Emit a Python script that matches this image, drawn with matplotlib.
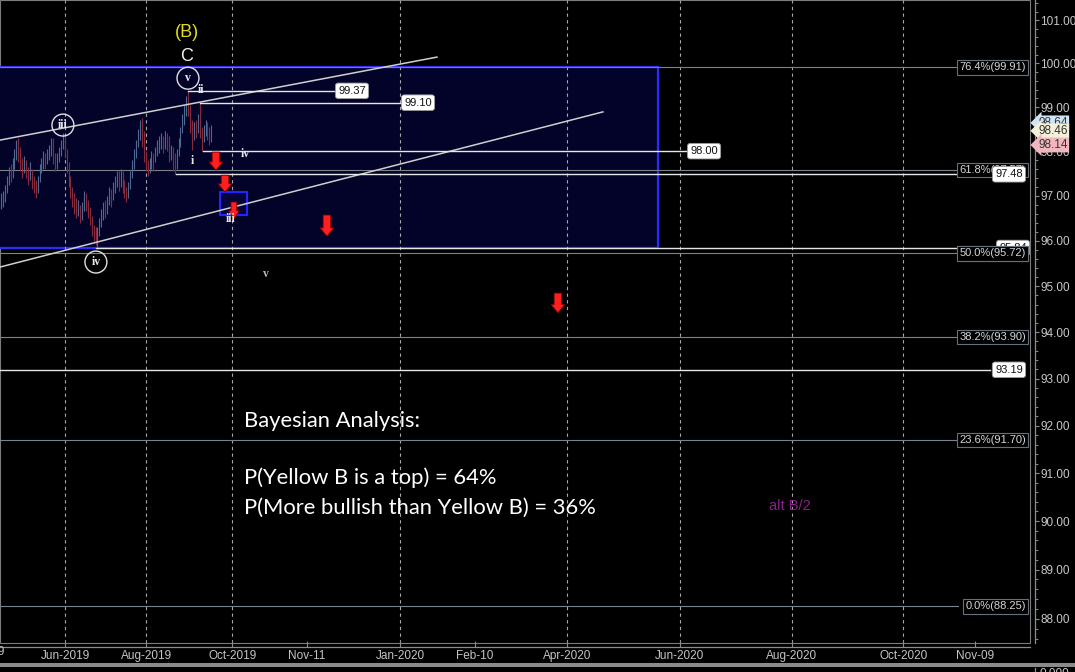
import numpy as np
import matplotlib
matplotlib.use("Agg")
import matplotlib.pyplot as plt
from matplotlib.patches import Rectangle
from matplotlib.ticker import FixedLocator, FixedFormatter, NullFormatter
from matplotlib.lines import Line2D

# ---------------- data ----------------
highs = [97.05, 97.10, 97.25, 97.45, 97.65, 97.70, 97.85, 98.05, 98.25, 98.30,
         98.10, 97.85, 97.90, 97.80, 97.65, 97.75, 97.60, 97.45, 97.35, 97.45,
         97.70, 97.85, 98.00, 97.95, 98.05, 98.15, 98.30, 98.30, 97.95, 97.95,
         98.10, 98.25, 98.40, 98.35, 98.05, 97.75, 97.45, 97.20, 97.05, 96.95,
         96.90, 96.80, 96.85, 97.10, 97.05, 96.90, 96.75, 96.55, 96.35, 96.30,
         96.30, 96.50, 96.70, 96.85, 96.90, 97.00, 97.20, 97.15, 97.30, 97.45,
         97.55, 97.55, 97.60, 97.55, 97.35, 97.20, 97.30, 97.55, 97.80, 98.05,
         98.25, 98.50, 98.70, 98.75, 98.45, 98.00, 97.80, 97.85, 98.00, 97.95,
         98.10, 98.25, 98.35, 98.40, 98.35, 98.45, 98.40, 98.35, 98.15, 98.10,
         97.95, 98.05, 98.30, 98.55, 98.85, 99.05, 99.25, 99.37, 99.05, 98.70,
         98.65, 98.70, 98.85, 99.10, 98.55, 98.60, 98.70, 98.65, 98.55, 98.60]
lows = [96.70, 96.75, 96.85, 97.05, 97.25, 97.30, 97.40, 97.60, 97.80, 97.75,
        97.55, 97.40, 97.50, 97.40, 97.25, 97.35, 97.15, 97.05, 96.95, 97.05,
        97.30, 97.50, 97.60, 97.60, 97.70, 97.80, 97.90, 97.70, 97.55, 97.60,
        97.75, 97.90, 98.05, 97.85, 97.50, 97.20, 96.95, 96.75, 96.60, 96.50,
        96.55, 96.40, 96.45, 96.65, 96.65, 96.50, 96.35, 96.10, 96.00, 95.90,
        95.84, 96.10, 96.30, 96.45, 96.50, 96.60, 96.80, 96.75, 96.90, 97.05,
        97.20, 97.10, 97.20, 97.05, 96.95, 96.85, 96.95, 97.15, 97.40, 97.60,
        97.85, 98.10, 98.25, 98.10, 97.75, 97.55, 97.45, 97.50, 97.60, 97.55,
        97.75, 97.90, 97.95, 98.05, 97.95, 98.05, 98.00, 97.75, 97.80, 97.55,
        97.48, 97.60, 97.90, 98.10, 98.40, 98.60, 98.80, 98.80, 98.40, 98.02,
        98.25, 98.30, 98.40, 98.30, 98.00, 98.20, 98.35, 98.25, 98.15, 98.20]
closes = [96.85, 96.95, 97.10, 97.35, 97.50, 97.45, 97.70, 97.95, 98.05, 97.90,
          97.75, 97.60, 97.70, 97.55, 97.45, 97.55, 97.35, 97.20, 97.10, 97.35,
          97.55, 97.70, 97.85, 97.75, 97.90, 98.05, 98.15, 97.85, 97.70, 97.80,
          97.95, 98.15, 98.30, 98.00, 97.70, 97.40, 97.10, 96.95, 96.80, 96.65,
          96.75, 96.55, 96.70, 96.95, 96.80, 96.65, 96.50, 96.25, 96.15, 96.05,
          96.20, 96.40, 96.55, 96.75, 96.70, 96.85, 97.05, 96.95, 97.15, 97.30,
          97.40, 97.25, 97.45, 97.30, 97.10, 97.00, 97.20, 97.45, 97.70, 97.90,
          98.15, 98.35, 98.50, 98.45, 97.95, 97.70, 97.55, 97.70, 97.85, 97.75,
          97.95, 98.10, 98.20, 98.25, 98.15, 98.30, 98.20, 97.90, 98.05, 97.80,
          97.70, 97.95, 98.15, 98.40, 98.70, 98.90, 99.10, 99.00, 98.60, 98.40,
          98.55, 98.45, 98.70, 98.45, 98.25, 98.45, 98.55, 98.40, 98.30, 98.46]

# x axis (trading-day slots) labels
x_tick_labels = ["Jun-2019", "Aug-2019", "Oct-2019", "Nov-11", "Jan-2020", "Feb-10",
                 "Apr-2020", "Jun-2020", "Aug-2020", "Oct-2020", "Nov-09"]
x_tick_pos = [33.9, 75.8, 120.4, 159.1, 207.5, 245.9, 293.9, 352.3, 410.3, 468.1, 505.2]
grid_labels = ["Jun-2019", "Aug-2019", "Oct-2019", "Jan-2020",
               "Apr-2020", "Jun-2020", "Aug-2020", "Oct-2020"]
y_ticks = [88, 89, 90, 91, 92, 93, 94, 95, 96, 97, 98, 99, 100, 101]

# Fibonacci retracement levels
fib_pcts = ["76.4%", "61.8%", "50.0%", "38.2%", "23.6%", "0.0%"]
fib_vals = [99.91, 97.57, 95.72, 93.90, 91.70, 88.25]

# white price levels: value, start slot, end slot, label slot
level_vals = [99.37, 99.10, 98.00, 97.48, 93.19, 95.84]
level_start = [97.4, 103.6, 105.2, 91.2, 0.0, 49.7]
level_end = [173.6, 208.3, 356.5, 513.0, 513.0, 516.6]
level_lab_x = [182.4, 216.6, 364.8, 522.8, 522.8, 524.9]

# right-axis price tags
tag_vals = [98.64, 98.46, 98.14]
tag_colors = ["#cfe4f4", "#f3efd9", "#f2b6be"]

# projected down arrows: slot, top price, tip price
arrow_x = [111.9, 116.6, 121.2, 169.4, 289.1]
arrow_top = [97.98, 97.46, 96.86, 96.57, 94.85]
arrow_tip = [97.57, 97.08, 96.48, 96.10, 94.42]

# channel lines
upper_ch_x = [0.0, 226.4]
upper_ch_y = [98.25, 100.145]
lower_ch_x = [0.0, 312.4]
lower_ch_y = [95.42, 98.89]

# ---------------- figure ----------------
W, H = 1075, 672
fig = plt.figure(figsize=(W / 100, H / 100), dpi=100, facecolor="black")
ax = fig.add_axes([0, (H - 643) / H, 1030 / W, 643 / H])
ax.set_facecolor("black")
ax.set_yscale("log")
ax.set_ylim(87.51, 101.47)
ax.set_xlim(0, 533.7)

for s in ["left", "top"]:
    ax.spines[s].set_visible(False)
ax.spines["right"].set_position(("outward", 3.6))
ax.spines["bottom"].set_position(("outward", 2.9))
for s in ["right", "bottom"]:
    ax.spines[s].set_color("#8c8c8c")
    ax.spines[s].set_linewidth(0.9)
ax.add_patch(Rectangle((0, 0), 1, 1, transform=ax.transAxes, fill=False,
                       ec="#7c7c7c", lw=0.8, clip_on=False, zorder=0.2))

# y axis
ax.yaxis.tick_right()
ax.yaxis.set_major_locator(FixedLocator(y_ticks))
ax.yaxis.set_major_formatter(FixedFormatter([f"{v:.2f}" for v in y_ticks]))
minor = [round(v, 1) for v in np.arange(87.6, 101.45, 0.2) if abs(v - round(v)) > 0.05]
ax.yaxis.set_minor_locator(FixedLocator(minor))
ax.yaxis.set_minor_formatter(NullFormatter())
ax.tick_params(axis="y", which="major", direction="out", length=3, width=0.8,
               color="#8c8c8c", labelcolor="#c8c8c8", labelsize=8.5, pad=0.8)
ax.tick_params(axis="y", which="minor", direction="out", length=2, width=0.7,
               color="#8c8c8c")
for lab in ax.get_yticklabels():
    lab.set_family("Liberation Sans")

# x axis
ax.set_xticks(x_tick_pos)
ax.set_xticklabels(x_tick_labels, family="Liberation Sans")
ax.xaxis.set_minor_locator(FixedLocator([]))
ax.tick_params(axis="x", direction="in", length=4, width=0.8, color="#8c8c8c",
               labelcolor="#c4c4c4", labelsize=8.5, pad=2)
ax.text(-9.8, -0.004, "Apr-2019", transform=ax.get_xaxis_transform(), ha="center",
        va="top", fontsize=8.5, color="#c4c4c4", family="Liberation Sans", clip_on=False)

# dashed grid
for lab in grid_labels:
    ax.axvline(x_tick_pos[x_tick_labels.index(lab)], color="#a6a6a6", lw=0.8,
               ls=(0, (3, 3)), zorder=1)

# blue zone
ax.add_patch(Rectangle((-3, 95.84), 343.9, 99.91 - 95.84, fc="#03032a", ec="#2b2bff",
                       lw=1.6, zorder=0.5))
ax.add_patch(Rectangle((114.0, 96.57), 14.0, 97.08 - 96.57, fc="#05053a", ec="#2424ff",
                       lw=1.5, zorder=4))

# fib levels
for pct, v in zip(fib_pcts, fib_vals):
    ax.plot([0, 496.4], [v, v], color="#7a828c", lw=0.8, zorder=1.2)
    ax.text(531.6, v, f"{pct}({v:.2f})", ha="right", va="center", fontsize=8,
            color="#d6d6d6", family="Liberation Sans", zorder=6,
            bbox=dict(boxstyle="square,pad=0.2", fc="black", ec="#66707c", lw=0.8))

# price bars
xs = [i + 0.5 for i in range(len(closes))]
cols = []
for i, c in enumerate(closes):
    prev = closes[i - 1] if i > 0 else c
    cols.append("#4d6891" if c >= prev else "#862b3b")
ax.vlines(xs, lows, highs, colors=cols, lw=0.8, zorder=3)

# channel
ax.plot(upper_ch_x, upper_ch_y, color="#cfcfcf", lw=1.1, zorder=4)
ax.plot(lower_ch_x, lower_ch_y, color="#cfcfcf", lw=1.1, zorder=4)

# white levels
for v, x0, x1, xl in zip(level_vals, level_start, level_end, level_lab_x):
    ax.plot([x0, x1], [v, v], color="#e6e6e6", lw=1.0, zorder=4.5)
    ax.text(xl, v, f"{v:.2f}", ha="center", va="center", fontsize=8, color="#111111",
            family="Liberation Sans", zorder=7 if v != 95.84 else 5,
            bbox=dict(boxstyle="round,pad=0.25", fc="white", ec="#9a9a9a", lw=0.6))
# re-draw 50% label on top of the 95.84 tag
ax.text(531.6, 95.72, "50.0%(95.72)", ha="right", va="center", fontsize=8,
        color="#d6d6d6", family="Liberation Sans", zorder=8,
        bbox=dict(boxstyle="square,pad=0.2", fc="black", ec="#66707c", lw=0.8))

# arrows
for i, (x, y0, y1) in enumerate(zip(arrow_x, arrow_top, arrow_tip)):
    hw, tw = (0.75, 0.42) if i == 2 else (1.0, 0.55)
    ax.annotate("", xy=(x, y1), xytext=(x, y0), zorder=6,
                arrowprops=dict(arrowstyle=f"simple,head_length=0.6,head_width={hw},tail_width={tw}",
                                fc="#ff1f1f", ec="#7a0000", lw=0.6, shrinkA=0, shrinkB=0,
                                mutation_scale=10))

# wave labels
ax.text(96.9, 100.72, "(B)", ha="center", va="center", fontsize=13, color="#e2dc22",
        family="Liberation Sans", zorder=8)
ax.text(96.9, 100.17, "C", ha="center", va="center", fontsize=13, color="#f0f0f0",
        family="Liberation Sans", zorder=8)
for x, y, t in [(97.4, 99.66, "v"), (32.6, 98.59, "iii"), (49.7, 95.53, "iv")]:
    ax.text(x, y, t, ha="center", va="center", fontsize=8.5, color="#eeeeee",
            family="Liberation Serif", weight="bold", zorder=8,
            bbox=dict(boxstyle="circle,pad=0.42", fc="none", ec="#e0e0e0", lw=1.0))
for x, y, t, c in [(104.1, 99.39, "ii", "#e8e8e8"), (99.5, 97.78, "i", "#e8e8e8"),
                   (126.9, 97.93, "iv", "#e8e8e8"), (119.7, 96.48, "iii", "#e8e8e8"),
                   (137.8, 95.27, "v", "#b8b8b8")]:
    ax.text(x, y, t, ha="center", va="center", fontsize=8.5, color=c,
            family="Liberation Serif", weight="bold", zorder=8)

# right-axis tags
for v, c in zip(tag_vals, tag_colors):
    ax.text(1.008, v, f"{v:.2f}", transform=ax.get_yaxis_transform(), ha="left",
            va="center", fontsize=8.5, color="#333333", family="Liberation Sans",
            clip_on=False, zorder=10,
            bbox=dict(boxstyle="larrow,pad=0.12", fc=c, ec="none"))

# analysis text
ax.text(126.4, 92.10, "Bayesian Analysis:", ha="left", va="center", fontsize=15.8,
        color="white", family="Lato", zorder=8)
ax.text(126.4, 90.90, "P(Yellow B is a top) = 64%", ha="left", va="center",
        fontsize=15.8, color="white", family="Lato", zorder=8)
ax.text(126.4, 90.27, "P(More bullish than Yellow B) = 36%", ha="left", va="center",
        fontsize=15.8, color="white", family="Lato", zorder=8)
ax.text(409.3, 90.31, "alt B/2", ha="center", va="center", fontsize=10.5,
        color="#8a1f8a", family="Liberation Sans", zorder=8)

# lower strip
fig.add_artist(Rectangle((0, 5 / H), 1, 4 / H, transform=fig.transFigure,
                         fc="#8a8a8a", ec="none"))
fig.add_artist(Line2D([1035 / W, 1035 / W], [0, 4 / H], transform=fig.transFigure,
                      color="#8c8c8c", lw=0.9))
fig.text(1040 / W, 4 / H, "0.000", ha="left", va="top", fontsize=8.5,
         color="#c8c8c8", family="Liberation Sans")

fig.savefig("out.png", dpi=100, facecolor="black")
